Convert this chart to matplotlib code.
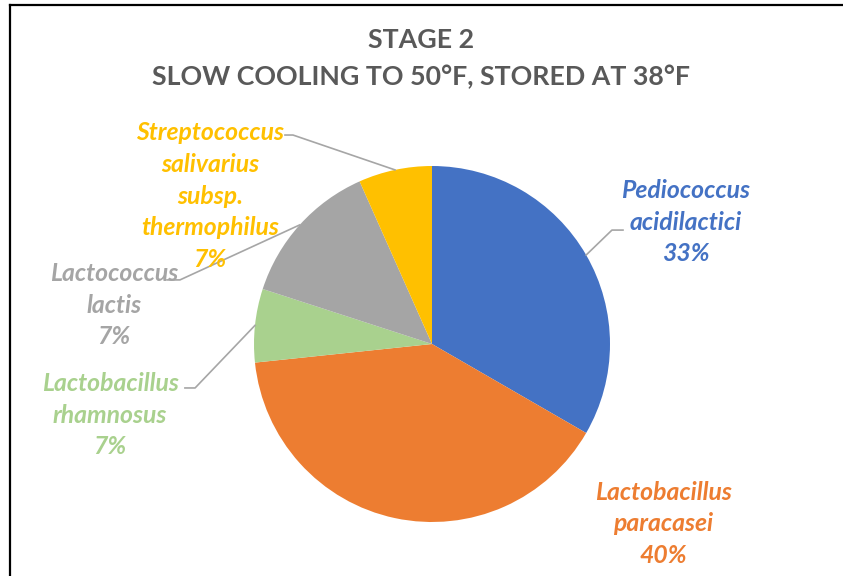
import numpy as np
import matplotlib.pyplot as plt
from matplotlib.lines import Line2D

# slice data (counts), clockwise from 12 o'clock
species = ['Pediococcus\nacidilactici', 'Lactobacillus\nparacasei',
           'Lactobacillus\nrhamnosus', 'Lactococcus\nlactis',
           'Streptococcus\nsalivarius\nsubsp.\nthermophilus']
counts = [5, 6, 1, 2, 1]
pct_labels = ['33%', '40%', '7%', '7%', '7%']
colors = ['#4472C4', '#ED7D31', '#A9D18E', '#A5A5A5', '#FFC000']

# label placement (pie radius units) and leader line elbows
label_pos = [(1.427, 0.685), (1.298, -1.011), (-1.809, -0.399),
             (-1.787, 0.219), (-1.247, 0.831)]
elbows = [(1.011, 0.640, 1.073), None, (-1.331, -0.247, -1.388),
          (-1.416, 0.360, -1.489), (-0.781, 1.174, -0.826)]

W, H = 843, 576
fig = plt.figure(figsize=(W / 100, H / 100), dpi=100)
cx, cy, r = 432, 344, 178
ax = fig.add_axes([(cx - r) / W, (H - cy - r) / H, 2 * r / W, 2 * r / H])

wedges, _ = ax.pie(counts, colors=colors, startangle=90, counterclock=False,
                   radius=1, wedgeprops={'linewidth': 0})
ax.set_xlim(-1, 1)
ax.set_ylim(-1, 1)
ax.set_aspect('equal')
ax.axis('off')

for i, w in enumerate(wedges):
    x, y = label_pos[i]
    ax.text(x, y, species[i] + '\n' + pct_labels[i], ha='center', va='center',
            color=colors[i], fontsize=17.8, fontweight='bold', style='italic',
            family='Lato', linespacing=1.46, clip_on=False)
    if elbows[i] is not None:
        mid = np.deg2rad((w.theta1 + w.theta2) / 2)
        ex, ey, tx = elbows[i]
        ax.plot([np.cos(mid), ex, tx], [np.sin(mid), ey, ey], color='#A6A6A6',
                lw=1.2, clip_on=False)

fig.text(0.5, 1 - 40 / H, 'STAGE 2', ha='center', va='center', fontsize=19.3,
         fontweight='bold', color='#595959', family='Lato')
fig.text(0.5, 1 - 77 / H, 'SLOW COOLING TO 50°F, STORED AT 38°F', ha='center',
         va='center', fontsize=19.3, fontweight='bold', color='#595959', family='Lato')

# chart border (top and left edges visible)
fig.add_artist(Line2D([10 / W, 1], [1 - 5 / H, 1 - 5 / H], color='black', lw=1.6))
fig.add_artist(Line2D([10 / W, 10 / W], [0, 1 - 5 / H], color='black', lw=1.6))

fig.savefig('out.png', dpi=100)
